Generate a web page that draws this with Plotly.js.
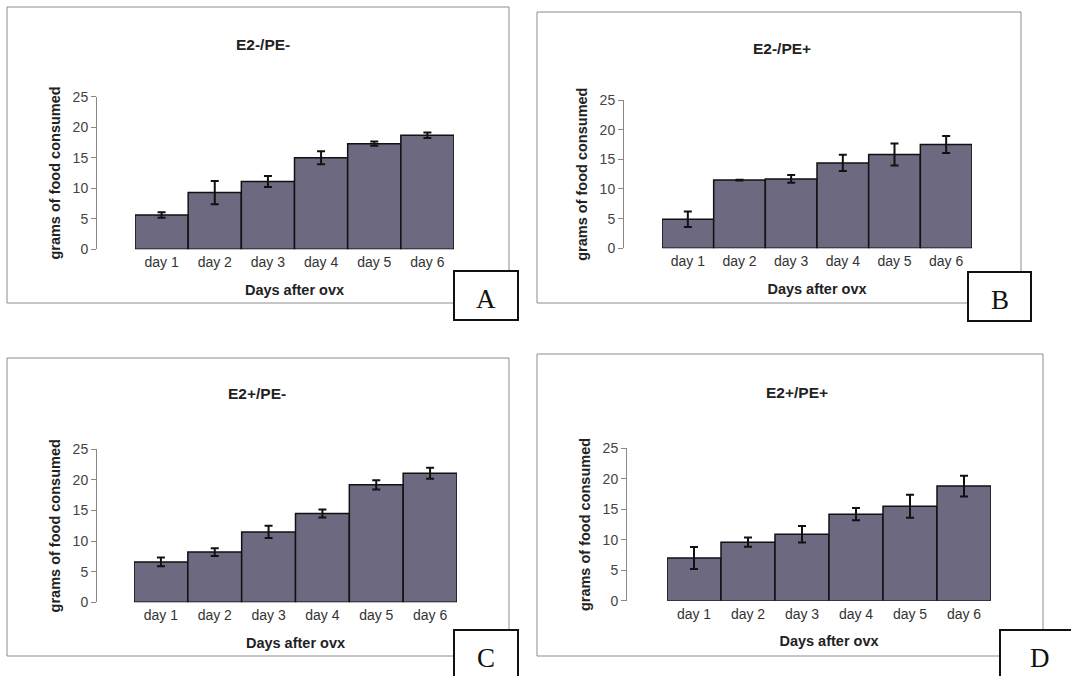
<!DOCTYPE html>
<html>
<head>
<meta charset="utf-8">
<script src="https://cdn.plot.ly/plotly-3.0.1.min.js"></script>
<style>html,body{margin:0;padding:0;background:#fff;}#chart{width:1071px;height:676px;}</style>
</head>
<body>
<div id="chart"></div>
<script>
// ---- data ----
const days = ['day 1', 'day 2', 'day 3', 'day 4', 'day 5', 'day 6'];
const panelTitles = ['E2-/PE-', 'E2-/PE+', 'E2+/PE-', 'E2+/PE+'];
const panelLetters = ['A', 'B', 'C', 'D'];
const meansA = [5.6, 9.3, 11.1, 15.0, 17.3, 18.7];
const errA   = [0.45, 1.9, 0.9, 1.05, 0.35, 0.45];
const meansB = [4.9, 11.5, 11.7, 14.4, 15.8, 17.5];
const errB   = [1.3, 0.05, 0.65, 1.35, 1.85, 1.45];
const meansC = [6.6, 8.2, 11.5, 14.5, 19.2, 21.1];
const errC   = [0.7, 0.65, 1.0, 0.65, 0.75, 0.9];
const meansD = [7.0, 9.6, 10.9, 14.2, 15.5, 18.8];
const errD   = [1.8, 0.75, 1.35, 1.0, 1.9, 1.7];
const yTickVals = [0, 5, 10, 15, 20, 25];
const xTitle = 'Days after ovx';
const yTitle = 'grams of food consumed';

const allMeans = [meansA, meansB, meansC, meansD];
const allErr = [errA, errB, errC, errD];

// ---- layout geometry (pixels in a 1071x676 page) ----
const W = 1071, H = 676;
const geo = [
  {axX: 96,  barL: 135, barR: 454, yTop: 96.7,  yBot: 249.3, box: [7, 7, 509, 303],    lab: [454, 271, 518, 320],  t: [263, 45]},
  {axX: 623, barL: 662, barR: 972, yTop: 100,   yBot: 248.3, box: [537, 12, 1021, 303], lab: [968, 272, 1031, 321], t: [782, 49]},
  {axX: 96,  barL: 134, barR: 457, yTop: 449.3, yBot: 602.3, box: [7, 358, 509, 656],   lab: [454, 630, 518, 690],  t: [257, 393]},
  {axX: 626, barL: 667, barR: 991, yTop: 448.3, yBot: 600.7, box: [537, 354, 1043, 656],lab: [1000, 630, 1080, 690], t: [797, 392]}
];
const px = v => v / W;
const py = v => 1 - v / H;

const FONT = 'Liberation Sans, Arial, sans-serif';
const traces = [];
const layout = {
  width: W, height: H,
  margin: {l: 0, r: 0, t: 0, b: 0},
  paper_bgcolor: '#ffffff', plot_bgcolor: 'rgba(0,0,0,0)',
  showlegend: false,
  bargap: 0,
  font: {family: FONT, color: '#333'},
  shapes: [], annotations: []
};

geo.forEach((g, i) => {
  const n = i === 0 ? '' : String(i + 1);
  traces.push({
    type: 'bar', x: days, y: allMeans[i],
    xaxis: 'x' + n, yaxis: 'y' + n,
    marker: {color: '#6c6981', line: {color: '#111', width: 1.5}},
    error_y: {type: 'data', array: allErr[i], visible: true, color: '#111', thickness: 2, width: 4},
    hoverinfo: 'x+y'
  });
  layout['xaxis' + n] = {
    domain: [px(g.barL), px(g.barR)], anchor: 'y' + n,
    type: 'category', range: [-0.5, 5.5],
    showgrid: false, zeroline: false, showline: false, ticks: '',
    tickfont: {family: FONT, size: 14, color: '#333'},
    ticklabelstandoff: 3,
    title: {text: xTitle, font: {family: FONT, size: 14.5, color: '#222', weight: 'bold'}, standoff: 15},
    automargin: false, fixedrange: true
  };
  layout['yaxis' + n] = {
    domain: [py(g.yBot), py(g.yTop)], anchor: 'free', position: px(g.axX),
    range: [0, 25], tickvals: yTickVals,
    showgrid: false, zeroline: false, showline: true, linecolor: '#888', linewidth: 1,
    ticks: 'outside', ticklen: 5, tickcolor: '#888',
    tickfont: {family: FONT, size: 14, color: '#444'},
    title: {text: yTitle, font: {family: FONT, size: 14.5, color: '#222', weight: 'bold'}, standoff: 7},
    automargin: false, fixedrange: true
  };
  // panel frame
  layout.shapes.push({type: 'rect', xref: 'paper', yref: 'paper',
    x0: px(g.box[0]), x1: px(g.box[2]), y0: py(g.box[3]), y1: py(g.box[1]),
    line: {color: '#8c8c8c', width: 1}, fillcolor: 'rgba(0,0,0,0)', layer: 'below'});
  // letter box
  layout.shapes.push({type: 'rect', xref: 'paper', yref: 'paper',
    x0: px(g.lab[0]), x1: px(g.lab[2]), y0: py(g.lab[3]), y1: py(g.lab[1]),
    line: {color: '#111', width: 2}, fillcolor: '#ffffff', layer: 'above'});
  layout.annotations.push({xref: 'paper', yref: 'paper', x: px((g.lab[0] + g.lab[2]) / 2), y: py(g.lab[1] + 28),
    text: panelLetters[i], showarrow: false, xanchor: 'center', yanchor: 'middle',
    font: {family: 'Liberation Serif, Times New Roman, serif', size: 27, color: '#111'}});
  // panel title
  layout.annotations.push({xref: 'paper', yref: 'paper', x: px(g.t[0]), y: py(g.t[1]),
    text: panelTitles[i], showarrow: false, xanchor: 'center', yanchor: 'middle',
    font: {family: FONT, size: 15.5, color: '#222', weight: 'bold'}});
});

Plotly.newPlot('chart', traces, layout, {displayModeBar: false, staticPlot: true});
</script>
</body>
</html>
